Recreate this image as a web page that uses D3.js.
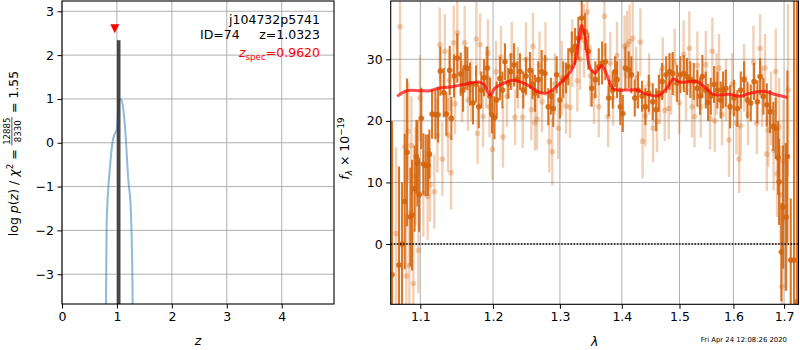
<!DOCTYPE html>
<html>
<head>
<meta charset="utf-8">
<script src="https://cdn.jsdelivr.net/npm/d3@7"></script>
<style>
  body { margin: 0; background: #fff; }
  svg { font-family: "DejaVu Sans", sans-serif; }
  text { white-space: pre; }
</style>
</head>
<body>
<svg id="chart" width="800" height="350"></svg>
<script>
// ---------- redshift probability p(z) ----------
const pzZ   = [0.79, 0.801, 0.813, 0.874, 0.922, 0.952, 0.995, 1.043, 1.068, 1.105, 1.147, 1.207, 1.25, 1.268, 1.287, 1.30];
const pzLog = [-6, -3.68, -1.84, -0.55, 0.03, 0.18, 0.29, 0.98, 0.99, 0.86, 0.37, -0.85, -1.46, -2.14, -3.68, -6];
const zBest = 1.0323, zBestHeight = 2.34;
const zSpec = 0.9620, zSpecMarkY = 2.6;
const objName = "j104732p5741", objId = 74;
const chi2 = 12885, nDof = 8330, chi2Ratio = 1.55;
const zTicks = [0, 1, 2, 3, 4];
const logpTicks = [-3, -2, -1, 0, 1, 2, 3];

// ---------- 1D spectrum, first grism set ----------
const darkLam = [1.0634,1.0723,1.0762,1.0797,1.0827,1.0870,1.0892,1.0925,1.0949,1.0962,
  1.0984,1.1013,1.1040,1.1072,1.1102,1.1120,1.1156,1.1200,1.1236,1.1267,
  1.1313,1.1348,1.1394,1.1416,1.1453,1.1498,1.1545,1.1577,1.1609,1.1637,
  1.1674,1.1716,1.1759,1.1797,1.1833,1.1872,1.1919,1.1957,1.1986,1.2021,
  1.2053,1.2100,1.2136,1.2173,1.2222,1.2257,1.2306,1.2354,1.2394,1.2443,
  1.2483,1.2543,1.2581,1.2618,1.2668,1.2720,1.2770,1.2820,1.2862,1.2897,
  1.2950,1.3001,1.3052,1.3095,1.3131,1.3186,1.3238,1.3290,1.3344,1.3397,
  1.3450,1.3504,1.3563,1.3619,1.3673,1.3727,1.3783,1.3849,1.3887,1.3920,
  1.3975,1.4016,1.4059,1.4116,1.4160,1.4218,1.4274,1.4343,1.4400,1.4459,
  1.4528,1.4586,1.4634,1.4692,1.4762,1.4820,1.4880,1.4956,1.5015,1.5077,
  1.5137,1.5196,1.5258,1.5324,1.5374,1.5417,1.5480,1.5522,1.5572,1.5634,
  1.5696,1.5759,1.5803,1.5854,1.5936,1.6013,1.6077,1.6142,1.6206,1.6270,
  1.6336,1.6401,1.6466,1.6519,1.6584,1.6652,1.6717,1.6784,1.6832,1.6879,
  1.6899,1.6945,1.6980,1.7035,1.7067,1.7136,1.7204,1.7266];
const darkFlux = [-5,-3.4,0,6.9,14.9,4.4,4.7,9,14.2,13.1,
  8,20.4,13,12.8,12.8,14.6,21.1,21,21,28.1,
  24.6,21.1,28.2,20.4,27.3,30.2,27.6,25,28.7,28.5,
  26,22.9,26,22.3,25,27,28.6,24,21,20.5,
  23.4,26.9,25,29.6,26.1,28,29.1,26.7,28,25,
  27.3,28.2,26,24.5,26.7,28,27.7,22.3,24,22,
  27.5,23.4,26.7,27,28.8,31.5,32.1,33.4,36.7,34.5,
  31.3,25.3,26.7,28.8,29.4,29.6,23.7,25,28,26.7,
  22.3,21.2,28.6,28.3,27.5,23.7,25,24,22.3,24.5,
  23.1,21.8,24.5,26.4,27.5,28,27.7,26.1,27.5,27.7,
  27.2,26.7,26.4,25.3,24,27.2,25,23,24,25.9,
  25,23.4,25,25.3,22.3,23.7,22,25,26.7,23.4,
  22.9,26.4,23.1,27.2,24,22.6,21.5,19.1,18.8,14,
  10.1,-1.3,6,4.4,14.2,-2.6,-2.6,-9.4];
const darkErr = [25,16,10,11,12,8,9,7,6,7,
  6,5,5,5,5,4,4,4,4.5,4,
  4,3.5,4,3.5,3.5,4,3.5,3.5,3.5,3.5,
  3.5,3.5,3,3.5,3,3,3.5,3,3,3.5,
  3,3.5,3,3,2.5,3,3.5,3,3,3,
  3,3,2.5,3,3,3.5,3,3,3,3,
  3,3,3,2.5,3,3,3,3.5,3.5,3,
  3,3,3,3,3.5,3,3,3,2.5,3,
  3,3,3.5,3,3,3,3,2.5,3,3,
  3,3.5,3,3,3,3,3.5,3,3,3,
  3,3,3,3,3,3.5,3,3,3,3,
  3,3,3,3,3.5,3,3,3,3,3,
  3,3,3.5,3,3,3.5,3.5,4,5,6,
  7,8,10,12,14,10,45,50];

// ---------- 1D spectrum, second grism set ----------
const lightLam = [1.0685,1.0736,1.0797,1.0818,1.0840,1.0857,1.0883,1.0909,1.0938,1.0974,
  1.0996,1.1040,1.1096,1.1129,1.1186,1.1227,1.1259,1.1294,1.1327,1.1371,
  1.1391,1.1412,1.1449,1.1467,1.1498,1.1563,1.1600,1.1646,1.1692,1.1763,
  1.1780,1.1815,1.1858,1.1904,1.1928,1.1950,1.1993,1.2043,1.2114,1.2144,
  1.2202,1.2272,1.2320,1.2364,1.2434,1.2483,1.2563,1.2588,1.2618,1.2648,
  1.2686,1.2724,1.2778,1.2836,1.2882,1.2923,1.2975,1.3028,1.3095,1.3159,
  1.3195,1.3274,1.3317,1.3381,1.3433,1.3485,1.3542,1.3619,1.3711,1.3771,
  1.3809,1.3854,1.3920,1.3970,1.4046,1.4088,1.4130,1.4184,1.4241,1.4314,
  1.4352,1.4400,1.4464,1.4533,1.4603,1.4655,1.4702,1.4737,1.4808,1.4850,
  1.4915,1.4996,1.5075,1.5118,1.5178,1.5227,1.5272,1.5324,1.5387,1.5480,
  1.5559,1.5602,1.5647,1.5681,1.5727,1.5784,1.5860,1.5917,1.5975,1.6057,
  1.6109,1.6142,1.6206,1.6283,1.6388,1.6454,1.6519,1.6559,1.6618,1.6652,
  1.6684,1.6737,1.6788,1.6832,1.6857,1.6899,1.6929,1.6953,1.6986,1.7055,
  1.7081];
const lightFlux = [1.7,35.3,15.8,-5.2,18.3,-3.5,16,-6.4,11,-1,
  23.7,8.2,7.7,9.6,8.5,17.6,32.4,13.8,31.3,17.7,
  26.6,11.6,32.7,22.8,34.3,24.8,32.7,23.4,25,33.3,
  18,32.4,20.7,27.1,31,22.3,15.4,28,30.4,17.4,
  24,30.6,20.6,27,20.6,30,21.8,32.1,19.7,20.3,
  29,23.1,30,16.6,15,26,18.8,27,22.4,22.2,
  31,26.5,30,33,37.7,27.3,24,22.3,37,20.7,
  29.4,23.7,30.6,25,32.1,32.4,32.9,33.4,27,32.8,
  16.7,20.8,26,18.8,19.9,24,28.6,21.7,22,26,
  29.5,22.9,30.8,25,31.8,22.3,20.7,29,22.3,29.1,
  20.4,31.3,20,26,28.6,21,25,16.9,26,19.6,
  13.8,19.2,27,21,29.5,19.6,31.8,24,28.6,14.6,
  18.5,22,15.2,28,11.4,19,8,-6.9,13.4,4.4,
  25];
const lightErr = [14,11,9,10,8,9,8,9,8,7,
  7,7,7,6,6,6,6,6,6,6,
  5,6,6,5,6,5,6,5,5,6,
  5,5,5,5,5.5,5,5,5,5,5,
  5,5.5,4.5,5,5,6,5,5.5,4.5,5,
  5.5,5,6,5,5.5,5,5,6,4.5,5,
  5.5,5,5,6,6,5,4.5,5,6.5,5,
  5,4.5,5.5,5,5,5.5,6,6,5,5.5,
  6,5,5,5.5,5,4.5,5,5,5,5,
  5.5,5,5.5,5,6,5,5,5.5,5,5.5,
  5,5.5,5,5,5.5,5,5,6,5,5,
  5.5,5,5.5,5,6,5,5.5,5,5.5,6,
  6,6,6.5,7,7,8,8,9,10,12,
  14];

// ---------- best-fit model ----------
const modelLam = [1.0701,1.0823,1.0996,1.1129,1.1240,1.1398,1.1581,1.1791,1.1872,1.1957,
  1.2028,1.2173,1.2296,1.2494,1.2694,1.2820,1.2950,1.3106,1.3212,1.3290,
  1.3344,1.3397,1.3477,1.3558,1.3668,1.3752,1.3859,1.4083,1.4253,1.4425,
  1.4627,1.4772,1.4891,1.5010,1.5318,1.5466,1.5621,1.5936,1.6128,1.6322,
  1.6584,1.6852,1.7067];
const modelFlux = [24.0,24.9,24.9,24.9,25.3,25.5,25.9,26.3,25.9,24.2,
  25.3,26.2,26.6,25.9,24.6,24.6,25.6,27.2,28.8,32.6,
  35.5,33.7,28.6,27.8,29.0,27.5,25.2,25.0,25.0,24.3,
  24.1,25.3,26.8,26.3,26.4,25.4,24.3,24.3,24.0,24.5,
  24.8,24.2,23.8];
const lamTicks = [1.1, 1.2, 1.3, 1.4, 1.5, 1.6, 1.7];
const fluxTicks = [0, 10, 20, 30];
const stamp = "Fri Apr 24 12:08:26 2020";

// ---------- layout ----------
const FS = 12.5;
const ORANGE = "#d4640c";
const svg = d3.select("#chart");

const L = {x0: 62, x1: 334, y0: 1, y1: 304};
const R = {x0: 390.7, x1: 798.5, y0: 1, y1: 304.3};
const xZ = d3.scaleLinear().domain([0, 4.952]).range([L.x0, L.x1]);
const yP = d3.scaleLinear().domain([-3.68, 3.235]).range([L.y1, L.y0]);
const xW = d3.scaleLog().domain([1.0617, 1.7296]).range([R.x0, R.x1]);
const yF = d3.scaleLinear().domain([-9.79, 39.47]).range([R.y1, R.y0]);

const defs = svg.append("defs");
function clipFor(id, b) {
  defs.append("clipPath").attr("id", id).append("rect")
    .attr("x", b.x0).attr("y", b.y0).attr("width", b.x1 - b.x0).attr("height", b.y1 - b.y0);
  return `url(#${id})`;
}

function gridAndAxes(b, xs, ys, xt, yt, fx, fy) {
  const g = svg.append("g");
  g.selectAll(".gx").data(xt).join("line")
    .attr("x1", d => xs(d)).attr("x2", d => xs(d)).attr("y1", b.y0).attr("y2", b.y1)
    .attr("stroke", "#b0b0b0").attr("stroke-width", 1);
  g.selectAll(".gy").data(yt).join("line")
    .attr("x1", b.x0).attr("x2", b.x1).attr("y1", d => ys(d)).attr("y2", d => ys(d))
    .attr("stroke", "#b0b0b0").attr("stroke-width", 1);

  const ax = svg.append("g").attr("transform", `translate(0,${b.y1})`)
    .call(d3.axisBottom(xs).tickValues(xt).tickFormat(fx).tickSize(4.5).tickPadding(3.5));
  const ay = svg.append("g").attr("transform", `translate(${b.x0},0)`)
    .call(d3.axisLeft(ys).tickValues(yt).tickFormat(fy).tickSize(4.5).tickPadding(3.5));
  [ax, ay].forEach(a => {
    a.select(".domain").remove();
    a.selectAll("line").attr("stroke", "#000").attr("stroke-width", 1);
    a.selectAll("text").attr("fill", "#000").style("font-size", FS + "px")
      .style("font-family", "'DejaVu Sans', sans-serif");
  });
}

function frame(b) {
  svg.append("rect").attr("x", b.x0).attr("y", b.y0)
    .attr("width", b.x1 - b.x0).attr("height", b.y1 - b.y0)
    .attr("fill", "none").attr("stroke", "#000").attr("stroke-width", 1.1);
}

// ===== left panel: p(z) =====
gridAndAxes(L, xZ, yP, zTicks, logpTicks, d3.format("d"), d3.format("d"));
const clipL = clipFor("clipL", L);
const gL = svg.append("g").attr("clip-path", clipL);

gL.append("path")
  .datum(pzZ.map((z, i) => [z, pzLog[i]]))
  .attr("d", d3.line().x(d => xZ(d[0])).y(d => yP(d[1])).curve(d3.curveMonotoneX))
  .attr("fill", "none").attr("stroke", "#1f77b4").attr("stroke-opacity", 0.5).attr("stroke-width", 2);

gL.append("rect")
  .attr("x", xZ(zBest) - 1.8).attr("width", 3.6)
  .attr("y", yP(zBestHeight)).attr("height", yP(yP.domain()[0]) - yP(zBestHeight))
  .attr("fill", "#333").attr("fill-opacity", 0.9);

// z_spec marker (downward triangle)
{
  const cx = xZ(zSpec), cy = yP(zSpecMarkY);
  gL.append("path")
    .attr("d", `M${cx - 4.5},${cy - 4.5}L${cx + 4.5},${cy - 4.5}L${cx},${cy + 4.5}Z`)
    .attr("fill", "#ff0000");
}
frame(L);

// annotations
svg.append("text").attr("x", 320).attr("y", 24).attr("text-anchor", "end")
  .attr("font-size", FS).text(objName);
svg.append("text").attr("x", 200).attr("y", 39).attr("font-size", FS).text(`ID=${objId}`);
svg.append("text").attr("x", 320).attr("y", 39).attr("text-anchor", "end")
  .attr("font-size", FS).text(`z=${zBest.toFixed(4)}`);
{
  const t = svg.append("text").attr("x", 320).attr("y", 57).attr("text-anchor", "end")
    .attr("font-size", FS).attr("fill", "#ff0000");
  t.append("tspan").attr("font-style", "italic").text("z");
  t.append("tspan").attr("font-size", FS * 0.7).attr("dy", 3).text("spec");
  t.append("tspan").attr("dy", -3).text(`=${zSpec.toFixed(4)}`);
}

// x label
svg.append("text").attr("x", (L.x0 + L.x1) / 2).attr("y", 345).attr("text-anchor", "middle")
  .attr("font-size", FS).attr("font-style", "italic").text("z");

// y label with stacked fraction
{
  const g = svg.append("g").attr("transform", "translate(17.5,153.5) rotate(-90)");
  const inner = g.append("g");
  const t1 = inner.append("text").attr("font-size", FS);
  t1.append("tspan").text("log ");
  t1.append("tspan").attr("font-style", "italic").text("p");
  t1.append("tspan").text("(");
  t1.append("tspan").attr("font-style", "italic").text("z");
  t1.append("tspan").text(") / ");
  t1.append("tspan").attr("font-style", "italic").text("χ");
  t1.append("tspan").attr("font-size", FS * 0.7).attr("dy", -5).text("2");
  t1.append("tspan").attr("dy", 5).text(" = ");
  const w1 = t1.node().getComputedTextLength();
  const fs2 = 8.6;
  const num = inner.append("text").attr("font-size", fs2).attr("text-anchor", "middle").attr("y", -7.5).text(String(chi2));
  const den = inner.append("text").attr("font-size", fs2).attr("text-anchor", "middle").attr("y", 3.4).text(String(nDof));
  const fw = Math.max(num.node().getComputedTextLength(), den.node().getComputedTextLength()) + 1;
  num.attr("x", w1 + fw / 2);
  den.attr("x", w1 + fw / 2);
  inner.append("line").attr("x1", w1).attr("x2", w1 + fw).attr("y1", -5.6).attr("y2", -5.6)
    .attr("stroke", "#000").attr("stroke-width", 0.7);
  const t2 = inner.append("text").attr("font-size", FS).attr("x", w1 + fw).text(` = ${chi2Ratio.toFixed(2)}`);
  const total = w1 + fw + t2.node().getComputedTextLength();
  inner.attr("transform", `translate(${-total / 2},0)`);
}

// ===== right panel: spectrum =====
gridAndAxes(R, xW, yF, lamTicks, fluxTicks, d3.format(".1f"), d3.format("d"));
const clipR = clipFor("clipR", R);
const gR = svg.append("g").attr("clip-path", clipR);

// error bars and points; each mark carries its own transparency so overlaps build up
function errSeries(lam, flux, err, opacity, barW, r) {
  const data = lam.map((l, i) => ({l, f: flux[i], e: err[i]}));
  const g = gR.append("g");
  g.selectAll("line").data(data).join("line")
    .attr("x1", d => xW(d.l)).attr("x2", d => xW(d.l))
    .attr("y1", d => yF(d.f - d.e)).attr("y2", d => yF(d.f + d.e))
    .attr("stroke", ORANGE).attr("stroke-opacity", opacity).attr("stroke-width", barW);
  g.selectAll("circle").data(data).join("circle")
    .attr("cx", d => xW(d.l)).attr("cy", d => yF(d.f)).attr("r", r)
    .attr("fill", ORANGE).attr("fill-opacity", opacity);
}
errSeries(lightLam, lightFlux, lightErr, 0.3, 2.4, 2.8);
errSeries(darkLam, darkFlux, darkErr, 0.88, 2.1, 2.8);

gR.append("path")
  .datum(modelLam.map((l, i) => [l, modelFlux[i]]))
  .attr("d", d3.line().x(d => xW(d[0])).y(d => yF(d[1])).curve(d3.curveCatmullRom))
  .attr("fill", "none").attr("stroke", "#ff0000").attr("stroke-opacity", 0.7)
  .attr("stroke-width", 3).attr("stroke-linejoin", "round");

svg.append("line").attr("x1", R.x0).attr("x2", R.x1).attr("y1", yF(0)).attr("y2", yF(0))
  .attr("stroke", "#000").attr("stroke-width", 1.5).attr("stroke-dasharray", "1.5,1.6");
frame(R);

svg.append("text").attr("x", (R.x0 + R.x1) / 2).attr("y", 346).attr("text-anchor", "middle")
  .attr("font-size", FS).attr("font-style", "italic").text("λ");
{
  const t = svg.append("text").attr("transform", "translate(348.5,148.5) rotate(-90)")
    .attr("text-anchor", "middle").attr("font-size", FS);
  t.append("tspan").attr("font-style", "italic").text("f");
  t.append("tspan").attr("font-style", "italic").attr("font-size", FS * 0.7).attr("dy", 3).text("λ");
  t.append("tspan").attr("dy", -3).text(" × 10");
  t.append("tspan").attr("font-size", FS * 0.7).attr("dy", -5).text("−19");
}
svg.append("text").attr("x", 787).attr("y", 342).attr("text-anchor", "end")
  .attr("font-size", 6.9).text(stamp);
</script>
</body>
</html>
